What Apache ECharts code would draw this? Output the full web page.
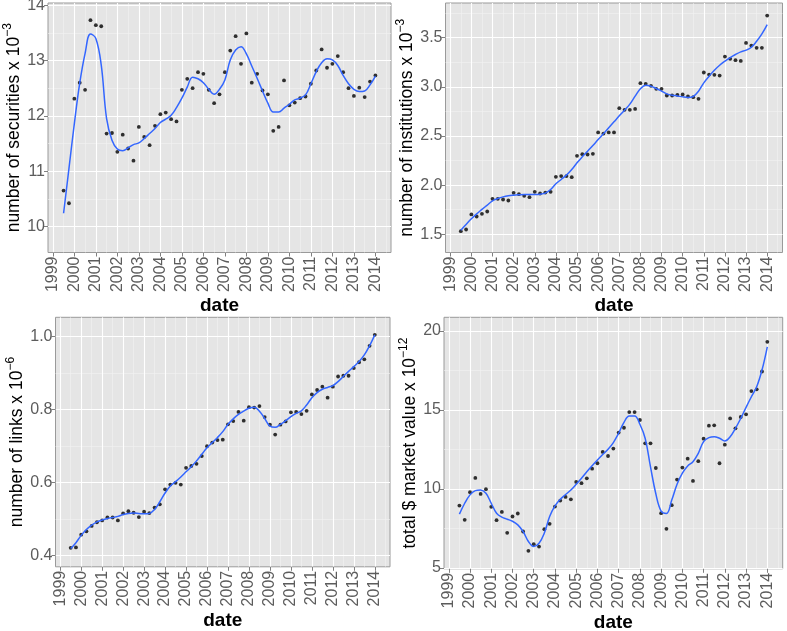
<!DOCTYPE html>
<html><head><meta charset="utf-8">
<script src="https://cdn.jsdelivr.net/npm/echarts@6/dist/echarts.min.js"></script>
<style>html,body{margin:0;padding:0;background:#fff}#c{width:787px;height:631px}</style>
</head><body><div id="c"></div><script>
const quarters = ['1999Q2','1999Q3','1999Q4',
 '2000Q1','2000Q2','2000Q3','2000Q4','2001Q1','2001Q2','2001Q3','2001Q4',
 '2002Q1','2002Q2','2002Q3','2002Q4','2003Q1','2003Q2','2003Q3','2003Q4',
 '2004Q1','2004Q2','2004Q3','2004Q4','2005Q1','2005Q2','2005Q3','2005Q4',
 '2006Q1','2006Q2','2006Q3','2006Q4','2007Q1','2007Q2','2007Q3','2007Q4',
 '2008Q1','2008Q2','2008Q3','2008Q4','2009Q1','2009Q2','2009Q3','2009Q4',
 '2010Q1','2010Q2','2010Q3','2010Q4','2011Q1','2011Q2','2011Q3','2011Q4',
 '2012Q1','2012Q2','2012Q3','2012Q4','2013Q1','2013Q2','2013Q3','2013Q4'];
const yearTicks = [1999,2000,2001,2002,2003,2004,2005,2006,2007,2008,2009,2010,2011,2012,2013,2014];
const yearMinorTicks = [1999.5,2000.5,2001.5,2002.5,2003.5,2004.5,2005.5,2006.5,2007.5,2008.5,2009.5,2010.5,2011.5,2012.5,2013.5,2014.5];

const securities = [10.65,10.42,12.31,12.60,12.47,13.73,13.64,13.62,11.68,11.69,
 11.35,11.66,11.41,11.19,11.80,11.62,11.47,11.82,12.03,12.06,
 11.94,11.90,12.47,12.67,12.50,12.79,12.76,12.47,12.23,12.39,
 12.79,13.18,13.44,12.94,13.49,12.60,12.76,12.46,12.39,11.73,
 11.80,12.64,12.19,12.24,12.32,12.35,12.58,12.82,13.20,12.87,
 12.94,13.08,12.79,12.50,12.36,12.51,12.34,12.62,12.73];
const securitiesSmooth = [10.24,11.05,11.86,12.59,13.13,13.48,13.40,12.92,11.95,11.56,
 11.40,11.37,11.42,11.48,11.51,11.59,11.68,11.77,11.88,11.94,
 12.01,12.15,12.32,12.52,12.70,12.67,12.60,12.48,12.39,12.48,
 12.65,13.01,13.19,13.25,13.12,12.90,12.68,12.45,12.23,12.07,
 12.07,12.14,12.21,12.29,12.32,12.38,12.58,12.80,12.96,13.03,
 13.01,12.91,12.73,12.58,12.48,12.44,12.45,12.56,12.72];

const institutions = [1.532,1.549,1.702,1.681,1.708,1.732,1.861,1.861,1.854,1.844,
 1.922,1.908,1.892,1.878,1.932,1.915,1.925,1.932,2.085,2.092,
 2.092,2.081,2.298,2.315,2.312,2.319,2.536,2.525,2.536,2.536,
 2.783,2.766,2.766,2.776,3.037,3.031,3.010,2.980,2.980,2.912,
 2.912,2.919,2.922,2.902,2.895,2.878,3.146,3.125,3.122,3.115,
 3.308,3.285,3.271,3.264,3.447,3.420,3.397,3.397,3.725];
const institutionsSmooth = [1.542,1.600,1.658,1.708,1.753,1.797,1.841,1.864,1.881,1.892,
 1.898,1.902,1.905,1.905,1.905,1.908,1.919,1.956,2.014,2.058,
 2.102,2.159,2.227,2.288,2.346,2.403,2.464,2.522,2.583,2.644,
 2.705,2.763,2.824,2.905,2.980,3.017,3.007,2.983,2.956,2.929,
 2.915,2.908,2.898,2.892,2.902,2.956,3.041,3.108,3.169,3.220,
 3.261,3.298,3.329,3.356,3.373,3.403,3.464,3.539,3.634];

const links = [0.421,0.422,0.457,0.466,0.481,0.491,0.496,0.504,0.504,0.496,
 0.515,0.521,0.517,0.505,0.520,0.516,0.531,0.540,0.581,0.594,
 0.599,0.594,0.640,0.645,0.651,0.672,0.699,0.709,0.716,0.717,
 0.759,0.768,0.793,0.769,0.806,0.805,0.809,0.779,0.758,0.731,
 0.758,0.767,0.792,0.793,0.787,0.796,0.841,0.853,0.862,0.832,
 0.862,0.890,0.892,0.892,0.913,0.929,0.937,0.974,1.004];
const linksSmooth = [0.419,0.435,0.455,0.471,0.483,0.492,0.497,0.501,0.504,0.507,
 0.512,0.515,0.516,0.515,0.514,0.515,0.526,0.547,0.571,0.590,
 0.602,0.615,0.629,0.643,0.659,0.677,0.695,0.709,0.723,0.739,
 0.759,0.774,0.786,0.795,0.803,0.806,0.795,0.775,0.754,0.751,
 0.759,0.769,0.780,0.789,0.796,0.812,0.832,0.846,0.855,0.860,
 0.865,0.876,0.890,0.904,0.917,0.931,0.949,0.974,1.004];

const marketValue = [8.95,8.05,9.80,10.70,9.69,9.99,8.87,8.03,8.55,7.23,
 8.26,8.45,7.31,6.09,6.51,6.36,7.46,7.80,8.89,9.27,
 9.50,9.35,10.45,10.37,10.68,11.29,11.63,12.35,12.09,12.56,
 13.57,13.88,14.87,14.87,14.37,12.89,12.89,11.33,8.47,7.48,
 8.98,10.60,11.36,11.92,10.51,11.76,13.19,14.01,14.03,11.63,
 12.81,14.47,13.84,14.56,14.73,16.20,16.31,17.44,19.32];
const marketValueSmooth = [8.41,9.10,9.63,9.90,9.94,9.73,9.10,8.47,8.22,8.09,
 7.96,7.73,7.31,6.68,6.36,6.57,7.21,8.26,8.93,9.35,
 9.65,9.94,10.30,10.68,11.10,11.48,11.84,12.18,12.51,12.94,
 13.53,14.22,14.62,14.62,14.10,13.20,11.40,9.70,8.60,8.45,
 9.30,10.30,11.00,11.46,11.73,12.26,13.00,13.25,13.31,13.21,
 13.04,13.31,13.84,14.47,15.17,15.84,16.47,17.53,19.00];

const secTicks = [10,11,12,13,14], secMinor = [10.5,11.5,12.5,13.5];
const instTicks = [1.5,2.0,2.5,3.0,3.5], instMinor = [1.75,2.25,2.75,3.25,3.75];
const linkTicks = [0.4,0.6,0.8,1.0], linkMinor = [0.5,0.7,0.9];
const mvTicks = [5,10,15,20], mvMinor = [7.5,12.5,17.5];

const FONT = '"Liberation Sans", Arial, Helvetica, sans-serif';
const LABEL_COLOR = '#5c5c5c';
const xMin = 1998.775, xMax = 2014.725;

function qToYear(q) { return +q.slice(0, 4) + (+q.slice(5)) / 4; }
const xs = quarters.map(qToYear);

const panels = [
  {grid: {left: 48, top: 3, width: 343, height: 249.5}, yMin: 9.53, yMax: 14.04,
   ticks: secTicks, minor: secMinor, dec: 0, title: 'number of securities x 10', exp: '−3',
   pts: securities, sm: securitiesSmooth, nameGap: 13},
  {grid: {left: 445.5, top: 3, width: 337, height: 249.5}, yMin: 1.315, yMax: 3.853,
   ticks: instTicks, minor: instMinor, dec: 1, title: 'number of institutions x 10', exp: '−3',
   pts: institutions, sm: institutionsSmooth, nameGap: 17},
  {grid: {left: 55.5, top: 317.3, width: 334.5, height: 249.5}, yMin: 0.369, yMax: 1.052,
   ticks: linkTicks, minor: linkMinor, dec: 1, title: 'number of links x 10', exp: '−6',
   pts: links, sm: linksSmooth, nameGap: 20},
  {grid: {left: 444, top: 317.3, width: 338.7, height: 251.5}, yMin: 4.95, yMax: 20.87,
   ticks: mvTicks, minor: mvMinor, dec: 0, title: 'total $ market value x 10', exp: '−12',
   pts: marketValue, sm: marketValueSmooth, nameGap: 17}
];

const grids = [], xAxes = [], yAxes = [], series = [];
panels.forEach((p, i) => {
  grids.push(Object.assign({show: true, backgroundColor: '#E5E5E5', borderColor: '#9a9a9a', borderWidth: 1,
    containLabel: false, outerBoundsMode: 'none'}, p.grid));
  xAxes.push({type: 'value', gridIndex: i, min: xMin, max: xMax, position: 'top', z: 0,
    axisLine: {show: false}, axisTick: {show: false, customValues: yearMinorTicks},
    axisLabel: {show: false, customValues: yearMinorTicks},
    splitLine: {show: true, lineStyle: {color: '#F2F2F2', width: 0.6}}});
  xAxes.push({type: 'value', gridIndex: i, min: xMin, max: xMax, position: 'bottom', z: 1,
    axisLine: {show: false},
    axisTick: {show: true, length: 4, lineStyle: {color: '#7f7f7f'}, customValues: yearTicks},
    axisLabel: {customValues: yearTicks, rotate: 90, margin: 4, color: LABEL_COLOR, fontSize: 16,
      fontFamily: FONT, formatter: v => String(Math.round(v))},
    splitLine: {show: true, lineStyle: {color: '#FFFFFF', width: 1.1}},
    name: 'date', nameLocation: 'middle', nameGap: 44,
    nameTextStyle: {fontWeight: 'bold', fontSize: 19, color: '#000', fontFamily: FONT}});
  yAxes.push({type: 'value', gridIndex: i, min: p.yMin, max: p.yMax, position: 'right', z: 0,
    axisLine: {show: false}, axisTick: {show: false, customValues: p.minor},
    axisLabel: {show: false, customValues: p.minor},
    splitLine: {show: true, lineStyle: {color: '#F2F2F2', width: 0.6}}});
  yAxes.push({type: 'value', gridIndex: i, min: p.yMin, max: p.yMax, position: 'left', z: 1,
    axisLine: {show: false},
    axisTick: {show: true, length: 4, lineStyle: {color: '#7f7f7f'}, customValues: p.ticks},
    axisLabel: {customValues: p.ticks, margin: 3, color: LABEL_COLOR, fontSize: 16, fontFamily: FONT,
      formatter: v => v.toFixed(p.dec)},
    splitLine: {show: true, lineStyle: {color: '#FFFFFF', width: 1.1}},
    name: '{t|' + p.title + '}{s|' + p.exp + '}', nameLocation: 'middle', nameRotate: 90, nameGap: p.nameGap,
    nameTextStyle: {color: '#000', fontFamily: FONT,
      rich: {t: {fontSize: 17.5, lineHeight: 26, color: '#000', fontFamily: FONT},
             s: {fontSize: 12, lineHeight: 12, verticalAlign: 'top', color: '#000', fontFamily: FONT}}}});
  series.push({type: 'scatter', xAxisIndex: 2 * i + 1, yAxisIndex: 2 * i + 1,
    data: xs.map((x, k) => [x, p.pts[k]]), symbolSize: 3.8, itemStyle: {color: '#000'}, z: 3});
  series.push({type: 'line', xAxisIndex: 2 * i + 1, yAxisIndex: 2 * i + 1,
    data: xs.map((x, k) => [x, p.sm[k]]), smooth: 0.4, symbol: 'none',
    lineStyle: {color: '#3366FF', width: 1.5}, z: 4});
});

const chart = echarts.init(document.getElementById('c'), null, {renderer: 'canvas'});
chart.setOption({animation: false, backgroundColor: '#fff', grid: grids, xAxis: xAxes, yAxis: yAxes, series: series});
</script></body></html>
